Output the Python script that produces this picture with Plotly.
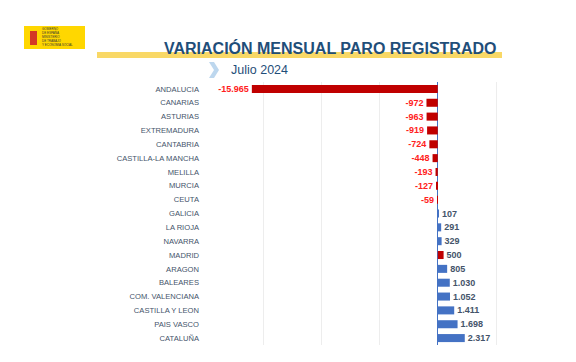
import plotly.graph_objects as go

regions = ["ANDALUCIA", "CANARIAS", "ASTURIAS", "EXTREMADURA", "CANTABRIA",
           "CASTILLA-LA MANCHA", "MELILLA", "MURCIA", "CEUTA", "GALICIA",
           "LA RIOJA", "NAVARRA", "MADRID", "ARAGON", "BALEARES",
           "COM. VALENCIANA", "CASTILLA Y LEON", "PAIS VASCO", "CATALUÑA"]
variacion = [-15965, -972, -963, -919, -724, -448, -193, -127, -59, 107,
             291, 329, 500, 805, 1030, 1052, 1411, 1698, 2317]
highlight = ["MADRID"]

title_text = "VARIACIÓN MENSUAL PARO REGISTRADO"
subtitle_text = "Julio 2024"

RED = "#C00000"
BLUE = "#4472C4"
bar_colors = [RED if (v < 0 or r in highlight) else BLUE for r, v in zip(regions, variacion)]
text_colors = ["#FF2020" if v < 0 else "#44546A" for v in variacion]


def fmt(v):
    s = f"{abs(v):,}".replace(",", ".")
    return ("-" + s) if v < 0 else s


labels = [f"<b>{fmt(v)}</b>" for v in variacion]

# page offset (body margin) compensation
OX, OY = 8, 8
W, H = 576, 362
L, R, T, B = 220 - OX, 73 + OX, 82 - OY, 17 + OY
PW, PH = W - L - R, H - T - B


def px(x):
    return (x - OX - L) / PW


def py(y):
    return (H - B - (y - OY)) / PH


fig = go.Figure()
fig.add_trace(go.Bar(
    y=regions, x=variacion, orientation="h",
    marker=dict(color=bar_colors, line=dict(width=0)),
    text=labels, texttemplate="%{text}", textposition="outside",
    constraintext="none",
    textfont=dict(color=text_colors, size=9, family="Liberation Sans"),
    cliponaxis=False, hoverinfo="skip",
))

shapes = [
    dict(type="rect", xref="paper", yref="paper", x0=px(97), x1=px(502), y0=py(58), y1=py(52),
         fillcolor="#F9D866", line=dict(width=0), layer="below"),
    dict(type="path", xref="paper", yref="paper",
         path=f"M {px(209)} {py(62)} L {px(214)} {py(62)} L {px(219)} {py(70)} L {px(214)} {py(78)} "
              f"L {px(209)} {py(78)} L {px(214)} {py(70)} Z",
         fillcolor="#BDD7EE", line=dict(width=0)),
    dict(type="rect", xref="paper", yref="paper", x0=px(24), x1=px(85), y0=py(49), y1=py(26),
         fillcolor="#FFD700", line=dict(width=0)),
    dict(type="rect", xref="paper", yref="paper", x0=px(30), x1=px(37), y0=py(45), y1=py(31),
         fillcolor="#C8102E", line=dict(width=0), opacity=0.8),
]

annotations = [
    dict(text=f"<b>{title_text}</b>", xref="paper", yref="paper", x=px(330), y=py(48),
         showarrow=False, font=dict(size=16, color="#1F4E79", family="Liberation Sans"),
         xanchor="center", yanchor="middle"),
    dict(text=subtitle_text, xref="paper", yref="paper", x=px(229), y=py(70),
         showarrow=False, font=dict(size=12.5, color="#1F4E79", family="Liberation Sans"),
         xanchor="left", yanchor="middle"),
    dict(text="GOBIERNO<br>DE ESPAÑA", xref="paper", yref="paper", x=px(40), y=py(31),
         showarrow=False, font=dict(size=3, color="#333333", family="Liberation Sans"),
         xanchor="left", yanchor="middle", align="left"),
    dict(text="MINISTERIO<br>DE TRABAJO<br>Y ECONOMÍA SOCIAL", xref="paper", yref="paper", x=px(40), y=py(41),
         showarrow=False, font=dict(size=3, color="#333333", family="Liberation Sans"),
         xanchor="left", yanchor="middle", align="left"),
]

fig.update_layout(
    width=W, height=H,
    margin=dict(l=L, r=R, t=T, b=B),
    paper_bgcolor="white", plot_bgcolor="white",
    showlegend=False,
    bargap=0.42,
    shapes=shapes,
    annotations=annotations,
    xaxis=dict(range=[-18700, 5600], tickvals=[-15000, -10000, -5000, 0, 5000],
               showticklabels=False, showgrid=True, gridcolor="#EDEDED", gridwidth=1,
               zeroline=True, zerolinecolor="#4472C4", zerolinewidth=1, showline=False),
    yaxis=dict(autorange="reversed", showgrid=False, showline=False,
               ticklabelstandoff=20,
               tickfont=dict(size=7.6, color="#44546A", family="Liberation Sans")),
)

fig.write_html("out.html")
